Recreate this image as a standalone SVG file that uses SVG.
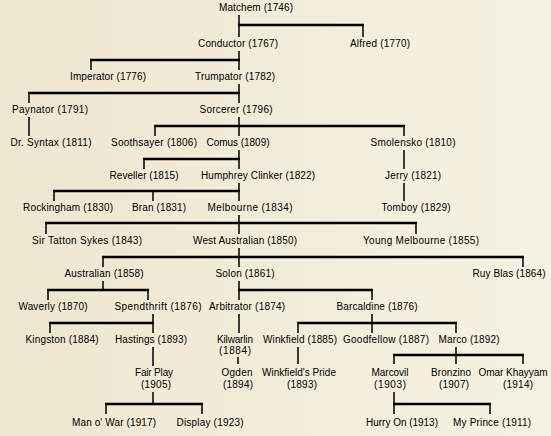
<svg xmlns="http://www.w3.org/2000/svg" width="551" height="436" viewBox="0 0 551 436">
<defs>
<linearGradient id="bg" x1="0" y1="0" x2="1" y2="0">
<stop offset="0" stop-color="#EDE6D0"/>
<stop offset="1" stop-color="#F6F2E3"/>
</linearGradient>
<style>
text{font-family:"Liberation Sans",Arial,sans-serif;font-size:10px;fill:#000;text-anchor:middle}
.h{stroke:#000;stroke-width:2.3;fill:none}
.v{stroke:#000;stroke-width:1.5;fill:none}
</style>
</defs>
<rect x="0" y="0" width="551" height="436" fill="url(#bg)"/>
<g id="connectors">
<path class="v" d="M239 15V37M363 25V37"/>
<path class="h" d="M238 25H364"/>
<path class="v" d="M239 51V70M91 60V70"/>
<path class="h" d="M90 60H240"/>
<path class="v" d="M239 84V103M29 93V103"/>
<path class="h" d="M28 93H240"/>
<path class="v" d="M29 117V136"/>
<path class="v" d="M239 117V136M155 126V136M404 126V136"/>
<path class="h" d="M154 126H405"/>
<path class="v" d="M239 150V169M144 159V169"/>
<path class="h" d="M143 159H240"/>
<path class="v" d="M404 150V169M404 183V201"/>
<path class="v" d="M239 183V201M54 191V201M153 191V201"/>
<path class="h" d="M53 191H240"/>
<path class="v" d="M239 215V234M46 223V234M416 223V234"/>
<path class="h" d="M45 223H417"/>
<path class="v" d="M239 248V267M103 257V267M523 257V267"/>
<path class="h" d="M102 257H524"/>
<path class="v" d="M103 281V290M48 290V300M148 290V300"/>
<path class="h" d="M47 290H149"/>
<path class="v" d="M239 281V300M372 290V300"/>
<path class="h" d="M238 290H373"/>
<path class="v" d="M153 314V333M50 323V333"/>
<path class="h" d="M49 323H154"/>
<path class="v" d="M239 314V333"/>
<path class="v" d="M372 314V333M298 323V333M456 323V333"/>
<path class="h" d="M297 323H457"/>
<path class="v" d="M153 347V366"/>
<path class="v" d="M238 357V364"/>
<path class="v" d="M298 347V364"/>
<path class="v" d="M456 347V364M394 355V364M523 355V364"/>
<path class="h" d="M393 355H524"/>
<path class="v" d="M153 392V404M106 404V414M202 404V414"/>
<path class="h" d="M105 404H203"/>
<path class="v" d="M394 392V414M490 404V414"/>
<path class="h" d="M393 404H491"/>
</g>
<g id="matchem"><text x="256" y="11" textLength="74" lengthAdjust="spacing">Matchem (1746)</text></g>
<g id="conductor"><text x="238" y="47" textLength="80" lengthAdjust="spacing">Conductor (1767)</text></g>
<g id="alfred"><text x="380" y="47" textLength="60" lengthAdjust="spacing">Alfred (1770)</text></g>
<g id="imperator"><text x="108" y="80" textLength="76" lengthAdjust="spacing">Imperator (1776)</text></g>
<g id="trumpator"><text x="235" y="80" textLength="80" lengthAdjust="spacing">Trumpator (1782)</text></g>
<g id="paynator"><text x="50" y="113" textLength="76" lengthAdjust="spacing">Paynator (1791)</text></g>
<g id="sorcerer"><text x="236" y="113" textLength="73" lengthAdjust="spacing">Sorcerer (1796)</text></g>
<g id="drsyntax"><text x="51" y="146" textLength="81" lengthAdjust="spacing">Dr. Syntax (1811)</text></g>
<g id="soothsayer"><text x="154" y="146" textLength="86" lengthAdjust="spacing">Soothsayer (1806)</text></g>
<g id="comus"><text x="238" y="146" textLength="63" lengthAdjust="spacing">Comus (1809)</text></g>
<g id="smolensko"><text x="413" y="146" textLength="85" lengthAdjust="spacing">Smolensko (1810)</text></g>
<g id="reveller"><text x="144" y="179" textLength="69" lengthAdjust="spacing">Reveller (1815)</text></g>
<g id="humphreyclinker"><text x="258" y="179" textLength="114" lengthAdjust="spacing">Humphrey Clinker (1822)</text></g>
<g id="jerry"><text x="413" y="179" textLength="56" lengthAdjust="spacing">Jerry (1821)</text></g>
<g id="rockingham"><text x="68" y="211" textLength="90" lengthAdjust="spacing">Rockingham (1830)</text></g>
<g id="bran"><text x="159" y="211" textLength="54" lengthAdjust="spacing">Bran (1831)</text></g>
<g id="melbourne"><text x="250" y="211" textLength="85" lengthAdjust="spacing">Melbourne (1834)</text></g>
<g id="tomboy"><text x="416" y="211" textLength="69" lengthAdjust="spacing">Tomboy (1829)</text></g>
<g id="sirtattonsykes"><text x="87" y="244" textLength="110" lengthAdjust="spacing">Sir Tatton Sykes (1843)</text></g>
<g id="westaustralian"><text x="245" y="244" textLength="104" lengthAdjust="spacing">West Australian (1850)</text></g>
<g id="youngmelbourne"><text x="421" y="244" textLength="116" lengthAdjust="spacing">Young Melbourne (1855)</text></g>
<g id="australian"><text x="104" y="277" textLength="79" lengthAdjust="spacing">Australian (1858)</text></g>
<g id="solon"><text x="245" y="277" textLength="59" lengthAdjust="spacing">Solon (1861)</text></g>
<g id="ruyblas"><text x="509" y="277" textLength="73" lengthAdjust="spacing">Ruy Blas (1864)</text></g>
<g id="waverly"><text x="53" y="310" textLength="69" lengthAdjust="spacing">Waverly (1870)</text></g>
<g id="spendthrift"><text x="158" y="310" textLength="87" lengthAdjust="spacing">Spendthrift (1876)</text></g>
<g id="arbitrator"><text x="247" y="310" textLength="76" lengthAdjust="spacing">Arbitrator (1874)</text></g>
<g id="barcaldine"><text x="377" y="310" textLength="81" lengthAdjust="spacing">Barcaldine (1876)</text></g>
<g id="kingston"><text x="62" y="343" textLength="73" lengthAdjust="spacing">Kingston (1884)</text></g>
<g id="hastings"><text x="151" y="343" textLength="72" lengthAdjust="spacing">Hastings (1893)</text></g>
<g id="kilwarlin"><text x="235" y="343" textLength="36" lengthAdjust="spacing">Kilwarlin</text><text x="235" y="354" textLength="32" lengthAdjust="spacing">(1884)</text></g>
<g id="winkfield"><text x="300" y="343" textLength="74" lengthAdjust="spacing">Winkfield (1885)</text></g>
<g id="goodfellow"><text x="386" y="343" textLength="86" lengthAdjust="spacing">Goodfellow (1887)</text></g>
<g id="marco"><text x="469" y="343" textLength="61" lengthAdjust="spacing">Marco (1892)</text></g>
<g id="fairplay"><text x="154" y="376" textLength="38" lengthAdjust="spacing">Fair Play</text><text x="156" y="388" textLength="30" lengthAdjust="spacing">(1905)</text></g>
<g id="ogden"><text x="237" y="376" textLength="31" lengthAdjust="spacing">Ogden</text><text x="238" y="388" textLength="30" lengthAdjust="spacing">(1894)</text></g>
<g id="winkfieldspride"><text x="299" y="376" textLength="74" lengthAdjust="spacing">Winkfield's Pride</text><text x="302" y="388" textLength="30" lengthAdjust="spacing">(1893)</text></g>
<g id="marcovil"><text x="390" y="376" textLength="37" lengthAdjust="spacing">Marcovil</text><text x="390" y="388" textLength="32" lengthAdjust="spacing">(1903)</text></g>
<g id="bronzino"><text x="451" y="376" textLength="40" lengthAdjust="spacing">Bronzino</text><text x="454" y="388" textLength="30" lengthAdjust="spacing">(1907)</text></g>
<g id="omarkhayyam"><text x="513" y="376" textLength="69" lengthAdjust="spacing">Omar Khayyam</text><text x="518" y="388" textLength="30" lengthAdjust="spacing">(1914)</text></g>
<g id="manowar"><text x="114" y="426" textLength="84" lengthAdjust="spacing">Man o' War (1917)</text></g>
<g id="display"><text x="210" y="426" textLength="67" lengthAdjust="spacing">Display (1923)</text></g>
<g id="hurryon"><text x="402" y="426" textLength="72" lengthAdjust="spacing">Hurry On (1913)</text></g>
<g id="myprince"><text x="492" y="426" textLength="78" lengthAdjust="spacing">My Prince (1911)</text></g>
</svg>
